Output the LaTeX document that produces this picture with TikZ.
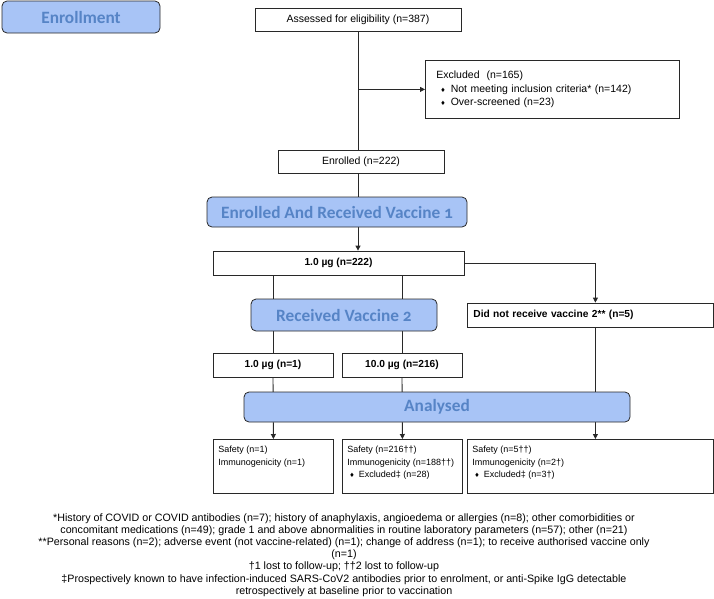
\documentclass[tikz,border=0pt]{standalone}
\usepackage{fontspec}
\setmainfont{Liberation Sans}
\newfontfamily\headfont[Numbers=OldStyle]{Carlito}
\newfontfamily\symfont{DejaVu Sans}
\usetikzlibrary{arrows.meta}
\usetikzlibrary{backgrounds}
\usetikzlibrary{positioning}

\definecolor{stageblue}{RGB}{168,196,246}
\definecolor{stagetext}{RGB}{86,132,198}
\definecolor{edgegray}{RGB}{40,40,40}
\newcommand{\dia}{{\symfont\fontsize{6}{6}\selectfont\char"2666}}

\tikzset{
  box/.style={draw=edgegray, line width=0.8pt, fill=white, inner sep=0pt,
    font=\fontsize{10.5}{13.5}\selectfont},
  boldbox/.style={box, font=\fontsize{10.2}{12.5}\selectfont\bfseries},
  resbox/.style={box, anchor=north west, inner xsep=5pt, inner ysep=7pt,
    font=\fontsize{9}{12.5}\selectfont},
  stage/.style={draw=edgegray, line width=0.8pt, rounded corners=5pt,
    fill=stageblue, text=stagetext, inner sep=0pt,
    font=\headfont\bfseries\fontsize{17.3}{19}\selectfont},
  link/.style={draw=edgegray, line width=0.9pt},
  arr/.style={link, -{Triangle[length=5pt,width=5pt]}},
}

\begin{document}
\begin{tikzpicture}[x=1pt, y=-1pt]
            \useasboundingbox (0,0) rectangle (714,598);

            % Stage banners
            \node[stage, minimum width=158, minimum height=32] (enroll) at (81,17) {Enrollment};
            \node[stage, minimum width=260, minimum height=30] (vac1) at (337,212) {Enrolled And Received Vaccine 1};
            \node[stage, minimum width=186, minimum height=32] (vac2) at (344,315) {Received Vaccine 2};
            \node[stage, minimum width=386, minimum height=30] (analysed) at (437,407) {Analysed};

            % Screening
            \node[box, minimum width=206, minimum height=23] (assessed) at (358,19.5) {Assessed for eligibility (n=387)};
            \node[box, anchor=north west, minimum height=58, text width=232pt, inner xsep=11pt, align=left] (excluded) at (425,60)
                {Excluded\ \ (n=165)\\
                 \hspace*{4pt}\dia\hspace{5pt}Not meeting inclusion criteria* (n=142)\\
                 \hspace*{4pt}\dia\hspace{5pt}Over-screened (n=23)};
            \node[box, minimum width=166, minimum height=23] (enrolled) at (361,161.5) {Enrolled (n=222)};

            % Doses
            \node[boldbox, minimum width=251, minimum height=24] (dose1) at (338.5,263) {1.0 µg (n=222)};
            \node[boldbox, anchor=west, minimum height=24, text width=234pt, inner xsep=6pt, align=left] (nodose) at (467,315) {Did not receive vaccine 2** (n=5)};
            \node[boldbox, minimum width=120, minimum height=24] (low) at (273,365) {1.0 µg (n=1)};
            \node[boldbox, minimum width=120, minimum height=24] (high) at (402,365) {10.0 µg (n=216)};

            % Analysis sets
            \node[resbox] (res1) at (213,439)
                {\parbox[t][40pt][t]{110pt}{Safety (n=1)\\Immunogenicity (n=1)}};
            \node[resbox] (res2) at (342,439)
                {\parbox[t][40pt][t]{110pt}{Safety (n=216††)\\Immunogenicity (n=188††)\\\hspace*{2pt}\dia\hspace{4pt}Excluded‡ (n=28)}};
            \node[resbox] (res3) at (467,439)
                {\parbox[t][40pt][t]{236pt}{Safety (n=5††)\\Immunogenicity (n=2†)\\\hspace*{2pt}\dia\hspace{4pt}Excluded‡ (n=3†)}};

            % Footnotes
            \node[font=\fontsize{10.7}{12.2}\selectfont, align=center] (notes) at (344,555)
                {*History of COVID or COVID antibodies (n=7); history of anaphylaxis, angioedema or allergies (n=8); other comorbidities or\\
                 concomitant medications (n=49); grade 1 and above abnormalities in routine laboratory parameters (n=57); other (n=21)\\
                 **Personal reasons (n=2); adverse event (not vaccine-related) (n=1); change of address (n=1); to receive authorised vaccine only\\
                 (n=1)\\
                 †1 lost to follow-up; ††2 lost to follow-up\\
                 ‡Prospectively known to have infection-induced SARS-CoV2 antibodies prior to enrolment, or anti-Spike IgG detectable\\
                 retrospectively at baseline prior to vaccination};

            % Connectors (behind the banners)
            \begin{scope}[on background layer]
                \draw[link] (assessed.south) -- (assessed.south |- enrolled.north);
                \draw[arr] (assessed.south |- excluded.west) -- (excluded.west);
                \draw[arr] (assessed.south |- enrolled.south) -- (assessed.south |- dose1.north);
                \draw[arr] (dose1.east) -| ([xshift=5pt]nodose.north);
                \draw[link] (dose1.south -| low.north) -- (low.north);
                \draw[link] (dose1.south -| high.north) -- (high.north);
                \draw[arr] (low.south) -- (res1.north);
                \draw[arr] (high.south) -- (res2.north);
                \draw[arr] ([xshift=5pt]nodose.south) -- ([xshift=5pt]nodose.south |- res3.north);
            \end{scope}

        \end{tikzpicture}
\end{document}
